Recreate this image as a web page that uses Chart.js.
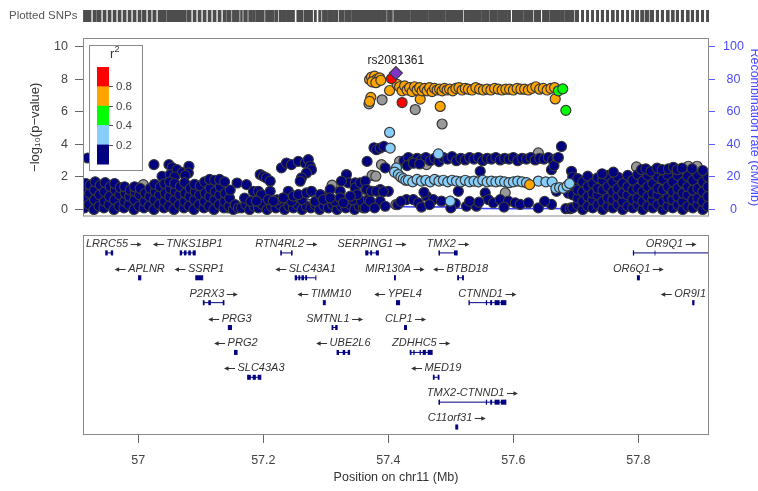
<!DOCTYPE html>
<html>
<head>
<meta charset="utf-8">
<script src="https://cdn.jsdelivr.net/npm/chart.js@4.4.1/dist/chart.umd.min.js"></script>
<style>
  html, body { margin: 0; padding: 0; background: #fff; }
  #wrap { position: relative; width: 758px; height: 491px; overflow: hidden; }
  canvas { position: absolute; left: 0; }
  #snpChart { top: 0; }
  #geneChart { top: 230px; }
</style>
</head>
<body>
<div id="wrap">
  <canvas id="snpChart" width="758" height="232"></canvas>
  <canvas id="geneChart" width="758" height="261"></canvas>
</div>
<script>
// LocusZoom-style regional plot around rs2081361 (chr11), drawn with Chart.js.
const FONT = "'Liberation Sans', Arial, sans-serif";

const X_MIN = 56.9115;
const X_MAX = 57.913;
const posTicks = [57, 57.2, 57.4, 57.6, 57.8];
const logpTicks = [0, 2, 4, 6, 8, 10];
const recombTicks = [0, 20, 40, 60, 80, 100];

const leadName = "rs2081361";
const leadSnp = [[57.412, 8.39]];

// [position (Mb), -log10 p], grouped by LD r2 with the lead SNP
const redSnps = [[57.405, 8.05], [57.422, 6.58]];
const greenSnps = [[57.672, 7.3], [57.679, 7.42], [57.684, 6.1]];
const orangeSnps = [
  [57.370, 8.0], [57.373, 8.15], [57.376, 7.95], [57.378, 8.2], [57.381, 8.0], [57.384, 7.9],
  [57.386, 8.1], [57.374, 7.85], [57.380, 7.8], [57.388, 7.95], [57.402, 7.32],
  [57.372, 6.9], [57.370, 6.65], [57.451, 6.79], [57.483, 6.34], [57.667, 6.8], [57.626, 1.53],
  [57.414, 7.7], [57.418, 7.55], [57.422, 7.3], [57.426, 7.6], [57.430, 7.35], [57.434, 7.5],
  [57.438, 7.25], [57.442, 7.55], [57.446, 7.35], [57.450, 7.5], [57.454, 7.3], [57.458, 7.45],
  [57.462, 7.3], [57.466, 7.5], [57.470, 7.25], [57.474, 7.45], [57.478, 7.35], [57.482, 7.4],
  [57.486, 7.3], [57.490, 7.45], [57.494, 7.35], [57.498, 7.4], [57.503, 7.3], [57.508, 7.45],
  [57.513, 7.5], [57.518, 7.35], [57.523, 7.45], [57.528, 7.4], [57.534, 7.35], [57.540, 7.5],
  [57.546, 7.4], [57.552, 7.35], [57.558, 7.4], [57.564, 7.35], [57.570, 7.45], [57.576, 7.4],
  [57.582, 7.35], [57.588, 7.4], [57.594, 7.4], [57.600, 7.35], [57.606, 7.45], [57.612, 7.4],
  [57.618, 7.4], [57.624, 7.35], [57.630, 7.45], [57.636, 7.55], [57.642, 7.4], [57.648, 7.45],
  [57.654, 7.35], [57.660, 7.45], [57.666, 7.5]
];
const lightBlueSnps = [
  [57.402, 4.74], [57.403, 3.78], [57.413, 2.56], [57.410, 2.3], [57.416, 2.15], [57.420, 2.0],
  [57.424, 1.9], [57.428, 1.8], [57.480, 3.42], [57.499, 0.51],
  [57.432, 1.8], [57.439, 1.7], [57.446, 1.85], [57.453, 1.75], [57.460, 1.8], [57.467, 1.7],
  [57.474, 1.85], [57.481, 1.75], [57.488, 1.8], [57.495, 1.7], [57.502, 1.8], [57.509, 1.75],
  [57.516, 1.7], [57.523, 1.8], [57.530, 1.7], [57.537, 1.75], [57.544, 1.7], [57.551, 1.8],
  [57.558, 1.7], [57.565, 1.75], [57.572, 1.7], [57.579, 1.75], [57.586, 1.7], [57.593, 1.65],
  [57.600, 1.7], [57.607, 1.75], [57.614, 1.7], [57.621, 1.65], [57.640, 1.75], [57.652, 1.7],
  [57.662, 1.7], [57.668, 1.3], [57.674, 1.35], [57.680, 1.3], [57.686, 1.45], [57.690, 1.6]
];
const graySnps = [
  [57.008, 1.53], [56.935, 0.4], [57.047, 1.3], [57.143, 0.1], [57.270, 0.35], [57.310, 1.5],
  [57.353, 1.35], [57.374, 2.1], [57.380, 2.05], [57.369, 6.5], [57.390, 6.75], [57.443, 6.15],
  [57.486, 5.26], [57.389, 2.76], [57.418, 2.96], [57.461, 2.76], [57.640, 3.48], [57.587, 1.02],
  [57.412, 0.3], [57.692, 0.1], [57.700, 1.6], [57.797, 2.62], [57.880, 2.66], [57.894, 2.66],
  [57.360, 0.9]
];
const navySnps = [
  [56.914, 0.1], [56.914, 0.7], [56.915, 1.3], [56.916, 1.6], [56.919, 3.17],
  [56.921, 0.3], [56.922, 1.0], [56.923, 1.5], [56.929, 0.0], [56.930, 0.6], [56.930, 1.2], [56.931, 1.7],
  [56.937, 0.2], [56.938, 0.9], [56.939, 1.5], [56.945, 0.1], [56.946, 0.5], [56.946, 1.1], [56.947, 1.65],
  [56.953, 0.3], [56.954, 0.8], [56.955, 1.4], [56.961, 0.0], [56.962, 0.6], [56.963, 1.2], [56.962, 1.6],
  [56.969, 0.2], [56.970, 0.9], [56.971, 1.35], [56.977, 0.1], [56.978, 0.5], [56.979, 1.0], [56.978, 1.4],
  [56.985, 0.3], [56.986, 0.8], [56.987, 1.2], [56.993, 0.0], [56.994, 0.6], [56.995, 1.1], [56.994, 1.4],
  [57.001, 0.2], [57.002, 0.9], [57.003, 1.3], [57.009, 0.1], [57.010, 0.5], [57.011, 1.0],
  [57.017, 0.2], [57.018, 0.8], [57.019, 1.3], [57.025, 2.76],
  [57.025, 0.0], [57.026, 0.6], [57.027, 1.1], [57.026, 1.55], [57.033, 0.3], [57.034, 0.9], [57.035, 1.4],
  [57.038, 2.04], [57.041, 0.1], [57.042, 0.5], [57.043, 1.0], [57.042, 1.6],
  [57.049, 2.76], [57.054, 2.58], [57.051, 2.15], [57.062, 2.45], [57.070, 2.27], [57.081, 2.66],
  [57.080, 2.25], [57.058, 2.0], [57.075, 2.1],
  [57.049, 0.2], [57.050, 0.8], [57.051, 1.3], [57.050, 1.7], [57.057, 0.0], [57.058, 0.6], [57.059, 1.1],
  [57.058, 1.6], [57.065, 0.3], [57.066, 0.9], [57.067, 1.4], [57.073, 0.1], [57.074, 0.5], [57.075, 1.0],
  [57.074, 1.65], [57.081, 0.2], [57.082, 0.8], [57.083, 1.3], [57.089, 0.0], [57.090, 0.6], [57.091, 1.1],
  [57.090, 1.55], [57.097, 0.3], [57.098, 0.9], [57.099, 1.45], [57.105, 0.1], [57.106, 0.5], [57.107, 1.0],
  [57.106, 1.7], [57.113, 0.2], [57.114, 0.8], [57.115, 1.3], [57.114, 1.85], [57.121, 0.0], [57.122, 0.6],
  [57.123, 1.1], [57.122, 1.8], [57.129, 0.3], [57.130, 0.9], [57.131, 1.4], [57.130, 1.85], [57.137, 0.1],
  [57.138, 0.5], [57.139, 1.0], [57.138, 1.7], [57.145, 0.2], [57.146, 0.7], [57.147, 1.2],
  [57.152, 0.0], [57.155, 0.3], [57.158, 1.63], [57.160, 0.1],
  [57.165, 0.1], [57.172, 0.3], [57.178, 0.0], [57.185, 0.2], [57.192, 0.1], [57.199, 0.3], [57.206, 0.0],
  [57.213, 0.2], [57.220, 0.1], [57.227, 0.3], [57.234, 0.0], [57.241, 0.2], [57.248, 0.1], [57.255, 0.3],
  [57.262, 0.0], [57.269, 0.2], [57.276, 0.1], [57.283, 0.3], [57.290, 0.0], [57.297, 0.2], [57.304, 0.1],
  [57.311, 0.3], [57.318, 0.0], [57.325, 0.2], [57.332, 0.1], [57.339, 0.3], [57.346, 0.0], [57.353, 0.2],
  [57.360, 0.1],
  [57.170, 0.7], [57.180, 0.5], [57.222, 0.6], [57.245, 0.5], [57.262, 0.6], [57.283, 0.5], [57.300, 0.8],
  [57.315, 0.5], [57.343, 0.6], [57.357, 0.5],
  [57.173, 1.53], [57.195, 2.15], [57.200, 2.04], [57.205, 1.94], [57.211, 1.74], [57.184, 1.12],
  [57.192, 1.12], [57.197, 0.92], [57.211, 1.12], [57.189, 0.51], [57.208, 0.61], [57.216, 0.51],
  [57.229, 2.56], [57.237, 2.86], [57.245, 2.76], [57.256, 2.96], [57.267, 2.86], [57.272, 3.07],
  [57.275, 2.66], [57.277, 2.45], [57.269, 2.25], [57.261, 1.94], [57.259, 1.74],
  [57.240, 1.12], [57.232, 0.72], [57.248, 0.82], [57.256, 0.92], [57.269, 1.02], [57.277, 1.12],
  [57.291, 0.92], [57.296, 0.61], [57.307, 1.23], [57.307, 0.72], [57.323, 1.12], [57.323, 0.72],
  [57.333, 2.15], [57.336, 1.64], [57.325, 1.74], [57.347, 1.64], [57.347, 1.33], [57.355, 1.64],
  [57.363, 1.74], [57.365, 1.23], [57.368, 0.61], [57.350, 0.92], [57.339, 0.82], [57.328, 0.41],
  [57.363, 0.10],
  [57.366, 2.96], [57.377, 3.8], [57.381, 3.68], [57.387, 3.78], [57.393, 3.88], [57.395, 2.56],
  [57.373, 1.12], [57.387, 1.23], [57.400, 1.12], [57.371, 0.51], [57.387, 0.51], [57.381, 1.12],
  [57.392, 1.1], [57.378, 0.1], [57.395, 0.2],
  [57.425, 3.0], [57.432, 3.2], [57.439, 2.95], [57.446, 3.15], [57.453, 3.05], [57.460, 3.2],
  [57.467, 3.0], [57.474, 3.15], [57.481, 2.95], [57.488, 3.2], [57.495, 3.1], [57.502, 3.25],
  [57.509, 3.0], [57.516, 3.15], [57.523, 3.05], [57.530, 3.2], [57.537, 3.1], [57.544, 3.2],
  [57.551, 3.0], [57.558, 3.15], [57.565, 3.1], [57.572, 3.2], [57.579, 3.05], [57.586, 3.15],
  [57.593, 3.1], [57.600, 3.2], [57.607, 3.0], [57.614, 3.15], [57.621, 3.1], [57.628, 3.2],
  [57.635, 3.05], [57.642, 3.15], [57.649, 3.1], [57.656, 3.2], [57.663, 3.05], [57.670, 3.15],
  [57.430, 2.7], [57.440, 2.85], [57.450, 2.8],
  [57.429, 0.61], [57.440, 0.61], [57.448, 0.41], [57.461, 0.82], [57.472, 0.61], [57.485, 0.51],
  [57.512, 1.12], [57.525, 0.2], [57.541, 0.2], [57.555, 1.02], [57.560, 0.61], [57.568, 0.41],
  [57.579, 0.61], [57.592, 0.51], [57.603, 0.41], [57.611, 0.31], [57.624, 0.41], [57.661, 0.31],
  [57.669, 1.12], [57.457, 1.06], [57.507, 0.37], [57.415, 0.3], [57.420, 0.5], [57.453, 0.15],
  [57.466, 0.3], [57.500, 0.1], [57.530, 0.5], [57.545, 0.45], [57.585, 0.15], [57.640, 0.1],
  [57.650, 0.5],
  [57.547, 2.35], [57.661, 2.45], [57.665, 2.7], [57.672, 3.2], [57.677, 3.88],
  [57.684, 0.05], [57.688, 1.0], [57.693, 2.35], [57.691, 0.05],
  [57.695, 0.1], [57.695, 0.9], [57.695, 1.5], [57.695, 2.0], [57.703, 0.3], [57.703, 0.7], [57.703, 1.2],
  [57.703, 1.9], [57.711, 0.0], [57.711, 0.5], [57.711, 1.1], [57.711, 1.7], [57.719, 0.2], [57.719, 0.8],
  [57.719, 1.4], [57.719, 2.05], [57.727, 0.1], [57.727, 0.6], [57.727, 1.0], [57.727, 1.6], [57.735, 0.3],
  [57.735, 0.9], [57.735, 1.3], [57.735, 1.95], [57.743, 0.0], [57.743, 0.5], [57.743, 1.2], [57.743, 1.8],
  [57.751, 0.2], [57.751, 0.7], [57.751, 1.4], [57.751, 2.1], [57.759, 0.1], [57.759, 0.6], [57.759, 1.1],
  [57.759, 1.7], [57.767, 0.3], [57.767, 0.8], [57.767, 1.3], [57.767, 2.0], [57.775, 0.0], [57.775, 0.5],
  [57.775, 1.0], [57.775, 1.6], [57.783, 0.2], [57.783, 0.9], [57.783, 1.4], [57.783, 2.1], [57.791, 0.1],
  [57.791, 0.6], [57.791, 1.2], [57.791, 1.8], [57.799, 0.3], [57.799, 0.7], [57.799, 1.3], [57.799, 2.15],
  [57.807, 0.0], [57.807, 0.5], [57.807, 1.1], [57.807, 1.75], [57.815, 0.2], [57.815, 0.8], [57.815, 1.4],
  [57.815, 2.1], [57.823, 0.1], [57.823, 0.6], [57.823, 1.0], [57.823, 1.6], [57.831, 0.3], [57.831, 0.9],
  [57.831, 1.3], [57.831, 2.0], [57.839, 0.0], [57.839, 0.5], [57.839, 1.2], [57.839, 1.85], [57.847, 0.2],
  [57.847, 0.7], [57.847, 1.4], [57.847, 2.15], [57.855, 0.1], [57.855, 0.6], [57.855, 1.1], [57.855, 1.7],
  [57.863, 0.3], [57.863, 0.8], [57.863, 1.3], [57.863, 2.1], [57.871, 0.0], [57.871, 0.5], [57.871, 1.0],
  [57.871, 1.65], [57.879, 0.2], [57.879, 0.9], [57.879, 1.4], [57.879, 2.05], [57.887, 0.1], [57.887, 0.6],
  [57.887, 1.2], [57.887, 1.8], [57.895, 0.3], [57.895, 0.7], [57.895, 1.3], [57.895, 2.1], [57.903, 0.0],
  [57.903, 0.5], [57.903, 1.1], [57.903, 1.7], [57.911, 0.2], [57.911, 0.8], [57.911, 1.4], [57.911, 2.0],
  [57.805, 2.45], [57.812, 2.5], [57.820, 2.35], [57.830, 2.55], [57.838, 2.45], [57.848, 2.5],
  [57.856, 2.6], [57.862, 2.45], [57.870, 2.55], [57.886, 2.5], [57.760, 2.3], [57.742, 2.2], [57.903, 2.4]
];

// recombination rate, [position (Mb), cM/Mb]
const recombRate = [
  [56.912, 0.5], [56.95, 0.8], [57.0, 0.6], [57.05, 1.0], [57.1, 0.7], [57.15, 0.5], [57.2, 1.2],
  [57.26, 1.6], [57.32, 1.4], [57.37, 1.0], [57.385, 2.0], [57.40, 1.8], [57.45, 1.6], [57.50, 1.7],
  [57.515, 0.8], [57.55, 0.6], [57.60, 0.5], [57.65, 0.6], [57.70, 0.4], [57.75, 0.6], [57.80, 0.5],
  [57.85, 0.7], [57.913, 0.5]
];

const ldBreaks = ["0.8", "0.6", "0.4", "0.2"];
const ldColors = ["#FF0000", "#FFA500", "#00FF00", "#87CEFA", "#000080"];

// genes in the region
const geneNames = ["LRRC55", "TNKS1BP1", "RTN4RL2", "SERPING1", "TMX2", "OR9Q1",
  "APLNR", "SSRP1", "SLC43A1", "MIR130A", "BTBD18", "OR6Q1",
  "P2RX3", "TIMM10", "YPEL4", "CTNND1", "OR9I1",
  "PRG3", "SMTNL1", "CLP1", "PRG2", "UBE2L6", "ZDHHC5",
  "SLC43A3", "MED19", "TMX2-CTNND1", "C11orf31"];
const geneRows = [1, 1, 1, 1, 1, 1, 2, 2, 2, 2, 2, 2, 3, 3, 3, 3, 3, 4, 4, 4, 5, 5, 5, 6, 6, 7, 8];
const geneStrands = ["+", "-", "+", "+", "+", "+", "-", "-", "-", "+", "-", "+",
  "+", "-", "-", "+", "-", "-", "+", "+", "-", "-", "+", "-", "-", "+", "+"];
const geneStarts = [56.948, 57.067, 57.228, 57.364, 57.481, 57.792, 57.0005, 57.092, 57.251, 57.4098, 57.511, 57.7985,
  57.104, 57.296, 57.413, 57.529, 57.887, 57.144, 57.310, 57.426, 57.154, 57.318, 57.435,
  57.175, 57.472, 57.481, 57.508];
const geneEnds = [56.959, 57.091, 57.246, 57.384, 57.510, 57.960, 57.004, 57.103, 57.284, 57.4112, 57.520, 57.8015,
  57.137, 57.299, 57.418, 57.588, 57.889, 57.149, 57.318, 57.429, 57.158, 57.338, 57.470,
  57.196, 57.481, 57.588, 57.511];
const geneExons = [
  [[56.948, 56.951], [56.956, 56.959]],
  [[57.067, 57.070], [57.073, 57.077], [57.080, 57.084], [57.087, 57.091]],
  [[57.228, 57.2295], [57.2445, 57.246]],
  [[57.364, 57.368], [57.371, 57.374], [57.380, 57.384]],
  [[57.481, 57.4825], [57.505, 57.510]],
  [[57.792, 57.7932], [57.826, 57.8272]],
  [[57.0005, 57.004]],
  [[57.092, 57.103]],
  [[57.251, 57.254], [57.256, 57.259], [57.261, 57.265], [57.267, 57.270]],
  [[57.4098, 57.4112]],
  [[57.511, 57.513], [57.518, 57.520]],
  [[57.7985, 57.8015]],
  [[57.104, 57.106], [57.112, 57.116], [57.135, 57.137]],
  [[57.296, 57.299]],
  [[57.413, 57.418]],
  [[57.529, 57.530], [57.556, 57.558], [57.563, 57.566], [57.570, 57.578], [57.580, 57.588]],
  [[57.887, 57.889]],
  [[57.144, 57.149]],
  [[57.310, 57.312], [57.315, 57.318]],
  [[57.426, 57.429]],
  [[57.154, 57.158]],
  [[57.318, 57.321], [57.327, 57.331], [57.335, 57.338]],
  [[57.435, 57.437], [57.440, 57.442], [57.450, 57.452], [57.455, 57.460], [57.463, 57.470]],
  [[57.175, 57.180], [57.183, 57.188], [57.191, 57.196]],
  [[57.472, 57.474], [57.479, 57.481]],
  [[57.481, 57.4825], [57.504, 57.505], [57.556, 57.558], [57.563, 57.566], [57.570, 57.578], [57.580, 57.588]],
  [[57.508, 57.511]]
];

const toXY = (pts) => pts.map(([x, y]) => ({ x, y }));

const snpSet = (label, pts, fill, extra = {}) => ({
  type: "scatter",
  label,
  data: toXY(pts),
  backgroundColor: fill,
  borderColor: "#383838",
  borderWidth: 1.2,
  pointRadius: 5,
  pointHoverRadius: 5,
  yAxisID: "y",
  clip: 0,
  ...extra,
});

const snpDecor = {
  id: "snpDecor",
  afterDatasetsDraw(chart) {
    const { ctx, chartArea: a, scales: { x, y } } = chart;
    ctx.save();
    ctx.strokeStyle = "#8a8a8a";
    ctx.lineWidth = 1;
    ctx.strokeRect(a.left + 0.5, a.top + 0.5, a.right - a.left - 1, a.bottom - a.top - 1);

    // plotted SNPs rug
    ctx.fillStyle = "#555";
    ctx.font = "11.5px " + FONT;
    ctx.textAlign = "left";
    ctx.textBaseline = "middle";
    ctx.fillText("Plotted SNPs", 9, 16);
    ctx.strokeStyle = "#4d4d4d";
    ctx.lineWidth = 2.5;
    chart.data.datasets.forEach((ds) => {
      if (ds.type !== "scatter") return;
      ds.data.forEach((p) => {
        const px = x.getPixelForValue(p.x);
        ctx.beginPath();
        ctx.moveTo(px, 10);
        ctx.lineTo(px, 22);
        ctx.stroke();
      });
    });

    // lead SNP label
    const lx0 = x.getPixelForValue(leadSnp[0][0]);
    const ly0 = y.getPixelForValue(leadSnp[0][1]);
    ctx.fillStyle = "#222";
    ctx.font = "12px " + FONT;
    ctx.textAlign = "center";
    ctx.fillText(leadName, lx0, ly0 - 12);

    // r2 legend
    const lx = a.left + 6, ly = a.top + 7;
    ctx.fillStyle = "#fff";
    ctx.fillRect(lx, ly, 53, 125);
    ctx.strokeStyle = "#8a8a8a";
    ctx.lineWidth = 1;
    ctx.strokeRect(lx + 0.5, ly + 0.5, 53, 125);
    ctx.fillStyle = "#333";
    ctx.textAlign = "left";
    ctx.textBaseline = "alphabetic";
    ctx.font = "13px " + FONT;
    ctx.fillText("r", lx + 21, ly + 13);
    ctx.font = "9px " + FONT;
    ctx.fillText("2", lx + 25.5, ly + 7);
    const bx = lx + 8, by = ly + 22, seg = 19.4;
    ldColors.forEach((c, i) => {
      ctx.fillStyle = c;
      ctx.fillRect(bx, by + i * seg, 12, seg + 0.5);
    });
    ctx.strokeStyle = "#555";
    ctx.fillStyle = "#444";
    ctx.font = "11.5px " + FONT;
    ctx.textBaseline = "middle";
    ldBreaks.forEach((t, i) => {
      const ty = Math.round(by + (i + 1) * seg) + 0.5;
      ctx.beginPath();
      ctx.moveTo(bx + 12, ty);
      ctx.lineTo(bx + 16, ty);
      ctx.stroke();
      ctx.fillText(t, bx + 19, ty);
    });
    ctx.restore();
  },
};

new Chart(document.getElementById("snpChart"), {
  type: "scatter",
  data: {
    datasets: [
      snpSet("lead", leadSnp, "#7E35C8", { pointStyle: "rectRot", pointRadius: 6.5, pointHoverRadius: 6.5 }),
      snpSet("r2 0.8-1", redSnps, "#FF0000"),
      snpSet("r2 0.4-0.6", greenSnps, "#00FF00"),
      snpSet("r2 0.6-0.8", orangeSnps, "#FFA500"),
      snpSet("r2 0.2-0.4", lightBlueSnps, "#87CEFA"),
      snpSet("r2 0-0.2", navySnps, "#000080"),
      snpSet("no LD", graySnps, "#999999"),
      {
        type: "line",
        label: "recombination",
        data: toXY(recombRate),
        yAxisID: "y2",
        borderColor: "#4040ff",
        borderWidth: 1.5,
        pointRadius: 0,
        tension: 0,
      },
    ],
  },
  options: {
    responsive: false,
    animation: false,
    events: [],
    layout: { padding: { top: 38, bottom: 15, left: 0, right: -4 } },
    plugins: { legend: { display: false }, tooltip: { enabled: false } },
    scales: {
      x: { type: "linear", min: X_MIN, max: X_MAX, display: false },
      y: {
        position: "left",
        min: -0.43,
        max: 10.55,
        afterBuildTicks: (s) => { s.ticks = logpTicks.map((v) => ({ value: v })); },
        afterFit: (s) => { s.width = 83; },
        grid: { drawOnChartArea: false, tickLength: 8, color: "#666" },
        border: { display: false },
        ticks: { color: "#444", padding: 7, font: { family: FONT, size: 12.5 } },
        title: {
          display: true,
          text: "−log₁₀(p−value)",
          color: "#333",
          font: { family: FONT, size: 13 },
          padding: { top: 28, bottom: 0 },
        },
      },
      y2: {
        position: "right",
        min: -4.3,
        max: 105.5,
        afterBuildTicks: (s) => { s.ticks = recombTicks.map((v) => ({ value: v })); },
        afterFit: (s) => { s.width = 53; },
        grid: { drawOnChartArea: false, tickLength: 6, color: "#5a5aff" },
        border: { display: false },
        ticks: { color: "#4a4aff", padding: 8, crossAlign: "center", font: { family: FONT, size: 12.5 } },
        title: {
          display: true,
          text: "Recombination rate (cM/Mb)",
          color: "#4a4aff",
          font: { family: FONT, size: 12.5 },
          padding: { top: 0, bottom: 0 },
        },
      },
    },
  },
  plugins: [snpDecor],
});

// gene panel
const NAVY = "#000080";
const geneSets = [];
geneNames.forEach((name, i) => {
  const row = geneRows[i];
  geneSets.push({
    data: [{ x: geneStarts[i], y: row }, { x: geneEnds[i], y: row }],
    showLine: true,
    borderColor: NAVY,
    borderWidth: 1,
    pointStyle: "line",
    rotation: 90,
    pointRadius: 2.5,
    pointBorderWidth: 1,
    pointBorderColor: NAVY,
    pointBackgroundColor: NAVY,
  });
  geneExons[i].forEach(([s, e]) => {
    geneSets.push({
      data: [{ x: s, y: row }, { x: e, y: row }],
      showLine: true,
      borderColor: NAVY,
      borderWidth: 5,
      borderCapStyle: "butt",
      pointRadius: 0,
    });
  });
});

// strand arrow: a short line with a solid head
function drawArrow(ctx, x0, x1, y) {
  const dir = Math.sign(x1 - x0);
  ctx.beginPath();
  ctx.moveTo(x0, y);
  ctx.lineTo(x1 - dir * 3, y);
  ctx.stroke();
  ctx.beginPath();
  ctx.moveTo(x1, y);
  ctx.lineTo(x1 - dir * 4.5, y - 2.3);
  ctx.lineTo(x1 - dir * 4.5, y + 2.3);
  ctx.closePath();
  ctx.fill();
}

const ARROW_LEN = 11, ARROW_GAP = 2.5;

const geneDecor = {
  id: "geneDecor",
  afterDatasetsDraw(chart) {
    const { ctx, chartArea: a, scales: { x, y } } = chart;
    ctx.save();
    ctx.strokeStyle = "#8a8a8a";
    ctx.lineWidth = 1;
    ctx.strokeRect(a.left + 0.5, a.top + 0.5, a.right - a.left - 1, a.bottom - a.top - 1);
    ctx.fillStyle = "#333";
    ctx.strokeStyle = "#333";
    ctx.font = "italic 11px " + FONT;
    ctx.textAlign = "left";
    ctx.textBaseline = "middle";
    geneNames.forEach((name, i) => {
      const tw = ctx.measureText(name).width;
      const w = tw + ARROW_GAP + ARROW_LEN;
      const s = Math.max(x.getPixelForValue(geneStarts[i]), a.left);
      const e = Math.min(x.getPixelForValue(geneEnds[i]), a.right);
      let left = (s + e) / 2 - w / 2;
      left = Math.max(a.left + 3, Math.min(left, a.right - 3 - w));
      const ty = y.getPixelForValue(geneRows[i]) - 9;
      const ay = Math.round(ty) + 0.5;
      if (geneStrands[i] === "+") {
        ctx.fillText(name, left, ty);
        drawArrow(ctx, left + tw + ARROW_GAP, left + w, ay);
      } else {
        drawArrow(ctx, left + ARROW_LEN, left, ay);
        ctx.fillText(name, left + ARROW_LEN + ARROW_GAP, ty);
      }
    });
    ctx.restore();
  },
};

new Chart(document.getElementById("geneChart"), {
  type: "scatter",
  data: { datasets: geneSets },
  options: {
    responsive: false,
    animation: false,
    events: [],
    layout: { padding: { top: 4, bottom: 0, left: 83, right: 49 } },
    plugins: { legend: { display: false }, tooltip: { enabled: false } },
    scales: {
      x: {
        type: "linear",
        min: X_MIN,
        max: X_MAX,
        position: "bottom",
        afterBuildTicks: (s) => { s.ticks = posTicks.map((v) => ({ value: v })); },
        afterFit: (s) => { s.height = 56; },
        grid: { drawOnChartArea: false, tickLength: 8, color: "#666" },
        border: { display: false },
        ticks: {
          color: "#444",
          padding: 10,
          maxRotation: 0,
          font: { family: FONT, size: 12.5 },
          callback: (v) => String(Math.round(v * 10) / 10),
        },
        title: {
          display: true,
          text: "Position on chr11 (Mb)",
          color: "#333",
          font: { family: FONT, size: 12.5 },
          padding: { top: 0, bottom: 6 },
        },
      },
      y: { display: false, reverse: true, min: 0.28, max: 8.32 },
    },
  },
  plugins: [geneDecor],
});
</script>
</body>
</html>
